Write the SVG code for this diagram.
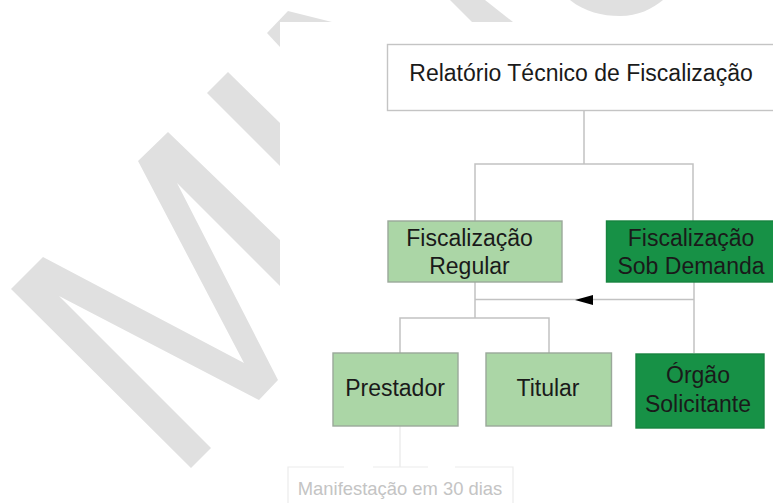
<svg xmlns="http://www.w3.org/2000/svg" width="773" height="503" viewBox="0 0 773 503">
<style>
.wm{fill:#e0e0e0}
.box{stroke-width:1.4}
.light{fill:#abd6a6;stroke:#9aa89a}
.dark{fill:#179146;stroke:#17843f}
.plain{fill:#fff;stroke:#c4c4c4}
.conn{fill:none;stroke:#c2c2c2;stroke-width:1.5}
text{font-family:"Liberation Sans",Arial,sans-serif;font-size:23px;fill:#1a1a1a;text-anchor:middle}
</style>
<rect width="773" height="503" fill="#fff"/>
<g id="watermark">
<polygon class="wm" points="11,289 43,257 244,363 138,161 168,132 280,240 280,286 177,183 278,380 259,400 59,296 211,448 191,468"/>
<polygon class="wm" points="228,72 207,93 280,166 280,123"/>
<polygon class="wm" points="288,11 267,33 280,47 280,22 332,22"/>
<polygon class="wm" points="450,0 472,22 513,22 485,0"/>
<path class="wm" d="M570 0C585 12 602 16 620 16C638 16 652 9 663 0Z"/>
</g>
<g id="connectors">
<path class="conn" d="M584 110V164M475 221V164H693V221"/>
<path class="conn" d="M475 282V318M400 353V318H549V353"/>
<path class="conn" d="M694 282V353"/>
<path class="conn" d="M694 299.500H475"/>
<path d="M575 300L593 295V305Z" fill="#000"/>
<path d="M400 426V467" fill="none" stroke="#ececec" stroke-width="1.500"/>
</g>
<g id="n-relatorio"><rect class="box plain" x="387.500" y="44.500" width="390" height="66"/><text x="581" y="81">Relatório Técnico de Fiscalização</text></g>
<g id="n-regular"><rect class="box light" x="388" y="221" width="174" height="61"/><text x="469.500" y="246">Fiscalização</text><text x="469.500" y="274">Regular</text></g>
<g id="n-demanda"><rect class="box dark" x="606.500" y="221" width="170" height="61"/><text x="691" y="246">Fiscalização</text><text x="691" y="274">Sob Demanda</text></g>
<g id="n-prestador"><rect class="box light" x="333" y="353" width="125" height="73"/><text x="395" y="396">Prestador</text></g>
<g id="n-titular"><rect class="box light" x="486" y="353" width="125.500" height="73"/><text x="548" y="396">Titular</text></g>
<g id="n-orgao"><rect class="box dark" x="636" y="354" width="128" height="74"/><text x="698" y="383">Órgão</text><text x="698" y="412">Solicitante</text></g>
<g id="n-manifestacao"><path d="M288 503V467H344M373 467H428M455 467H513V503" fill="none" stroke="#ececec" stroke-width="1.200"/><text x="400" y="495" style="font-size:18.400px;fill:#c4c4c4">Manifestação em 30 dias</text></g>
</svg>
